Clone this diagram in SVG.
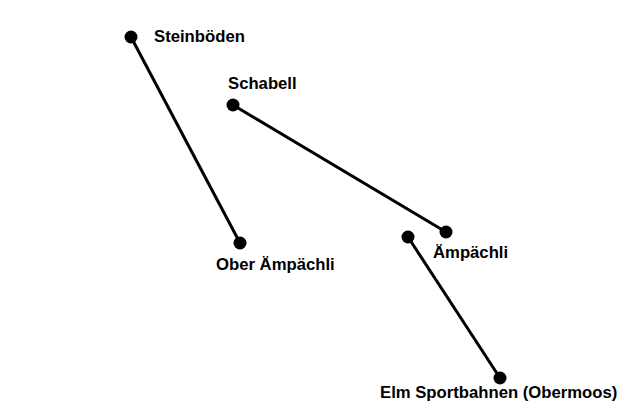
<svg xmlns="http://www.w3.org/2000/svg" width="630" height="420" viewBox="0 0 630 420">
<style>
.edge{stroke:#000;stroke-width:3;fill:none}
.dot{fill:#000}
.lbl{font-family:"Liberation Sans",Arial,sans-serif;font-weight:bold;font-size:16.7px;fill:#000}
</style>
<rect width="630" height="420" fill="#fff"/>
<g id="connectors">
<line class="edge" x1="131" y1="37" x2="240" y2="243"/>
<line class="edge" x1="233" y1="105" x2="446" y2="232"/>
<line class="edge" x1="408" y1="237" x2="500" y2="378"/>
</g>
<g id="steinboeden"><circle class="dot" cx="131" cy="37" r="6.5"/><text class="lbl" x="154" y="42">Steinböden</text></g>
<g id="ober-aempaechli"><circle class="dot" cx="240" cy="243" r="6.5"/><text class="lbl" x="216" y="270">Ober Ämpächli</text></g>
<g id="schabell"><circle class="dot" cx="233" cy="105" r="6.5"/><text class="lbl" x="228" y="89">Schabell</text></g>
<g id="aempaechli"><circle class="dot" cx="446" cy="232" r="6.5"/><text class="lbl" x="433" y="258">Ämpächli</text></g>
<g id="aempaechli2"><circle class="dot" cx="408" cy="237" r="6.5"/></g>
<g id="elm"><circle class="dot" cx="500" cy="378" r="6.5"/><text class="lbl" x="380" y="398">Elm Sportbahnen (Obermoos)</text></g>
</svg>
